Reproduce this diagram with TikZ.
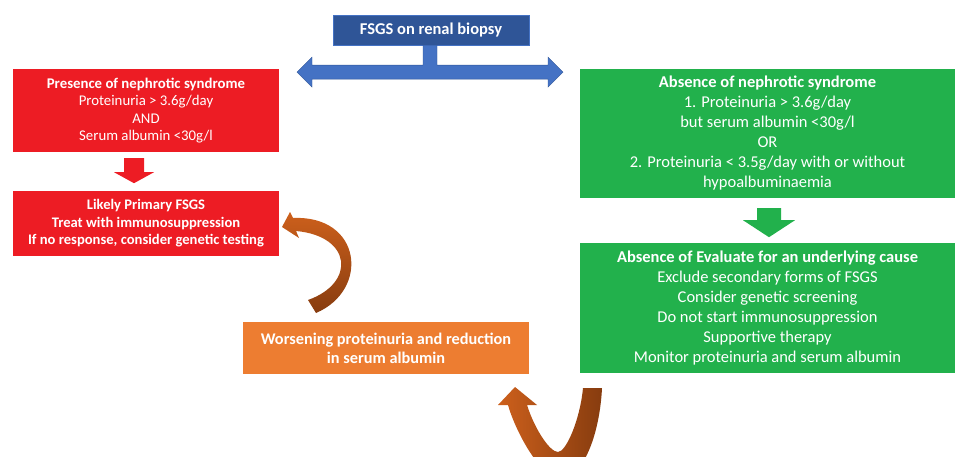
\documentclass[tikz,border=0pt]{standalone}
\usepackage{fontspec}
\setmainfont{Carlito}
\usetikzlibrary{calc}
\definecolor{cblue}{RGB}{47,85,151}
\definecolor{cbluearr}{RGB}{68,114,196}
\definecolor{cred}{RGB}{237,28,36}
\definecolor{cgreen}{RGB}{34,177,76}
\definecolor{corange}{RGB}{237,125,49}
\definecolor{cbrown}{RGB}{205,96,28}
\definecolor{cbrowndk}{RGB}{135,60,15}
\tikzset{
  box/.style={rectangle,draw=none,text=white,align=center,inner sep=0pt},
  titlebox/.style={box,fill=cblue,draw=cbluearr,thin,minimum width=196pt,
    minimum height=30pt,font=\fontsize{16.5}{19}\selectfont\bfseries},
  redbox/.style={box,fill=cred,minimum width=266pt,
    font=\fontsize{14.8}{17.5}\selectfont},
  greenbox/.style={box,fill=cgreen,minimum width=375pt,minimum height=129pt,
    font=\fontsize{16.5}{20}\selectfont},
  orangebox/.style={box,fill=corange,minimum width=286pt,minimum height=52pt,
    font=\fontsize{16.3}{19}\selectfont\bfseries},
  % block arrows
  bluearr/.style={fill=cbluearr,draw=cblue,thin},
  curvearr/.style={left color=cbrown,right color=cbrowndk}
}

\begin{document}
\begin{tikzpicture}[x=1pt,y=-1pt]
  \useasboundingbox (0,0) rectangle (955,457);
  \node[titlebox] (title) at (431,30) {FSGS on renal biopsy};
  \node[redbox,minimum height=83pt] (pres) at (146,110.5)
    {\textbf{Presence of nephrotic syndrome}\\Proteinuria > 3.6g/day\\AND\\Serum albumin <30g/l};
  \node[redbox,minimum height=65pt,font=\fontsize{14.6}{17.5}\selectfont\bfseries] (prim) at (146,223.5)
    {Likely Primary FSGS\\Treat with immunosuppression\\If no response, consider genetic testing};
  \node[greenbox] (abs) at (767.5,133.5)
    {\textbf{Absence of nephrotic syndrome}\\1. Proteinuria > 3.6g/day\\but serum albumin <30g/l\\OR\\
     2. Proteinuria < 3.5g/day with or without\\hypoalbuminaemia};
  \node[greenbox,minimum height=130pt] (eval) at (767.5,308)
    {\textbf{Absence of Evaluate for an underlying cause}\\Exclude secondary forms of FSGS\\Consider genetic screening\\
     Do not start immunosuppression\\Supportive therapy\\Monitor proteinuria and serum albumin};
  \node[orangebox] (worse) at (386,348)
    {Worsening proteinuria and reduction\\in serum albumin};

  % T-shaped double arrow under the title
  \coordinate (hub) at ($(title.south)+(-1,27)$);
  \draw[bluearr] (hub) ++(-133,0) -- ++(15,-15) -- ++(0,8) -- ++(111,0) -- ++(0,-20)
    -- ++(14,0) -- ++(0,20) -- ++(111,0) -- ++(0,-8) -- ++(15,15) -- ++(-15,15)
    -- ++(0,-8) -- ++(-236,0) -- ++(0,8) -- cycle;

  % straight down arrows
  \coordinate (ra) at ($(pres.south)+(-12,6)$);
  \fill[cred] (ra) ++(-10,0) -- ++(20,0) -- ++(0,14) -- ++(10,0) -- ++(-20,11)
    -- ++(-20,-11) -- ++(10,0) -- cycle;
  \coordinate (ga) at ($(abs.south)+(1.5,10)$);
  \fill[cgreen] (ga) ++(-12,0) -- ++(24,0) -- ++(0,12) -- ++(14,0) -- ++(-26,17)
    -- ++(-26,-17) -- ++(14,0) -- cycle;

  % curved arrows
  \shade[top color=cbrown,bottom color=cbrowndk]
    (308,300) .. controls (356,283) and (352,236) .. (296,231) -- (299,238) -- (282,227)
    -- (290,212) -- (293,218) .. controls (362,215) and (370,290) .. (316,313) -- cycle;
  \begin{scope}
    \clip (0,0) rectangle (955,457);
    \shade[curvearr]
      (602,388) .. controls (600,430) and (585,478) .. (560,478)
      .. controls (540,478) and (515,430) .. (508,405) -- (498,405) -- (515,387)
      -- (537,405) -- (527,405) .. controls (535,430) and (550,452) .. (558,452)
      .. controls (566,452) and (580,420) .. (583,388) -- cycle;
  \end{scope}
\end{tikzpicture}
\end{document}
